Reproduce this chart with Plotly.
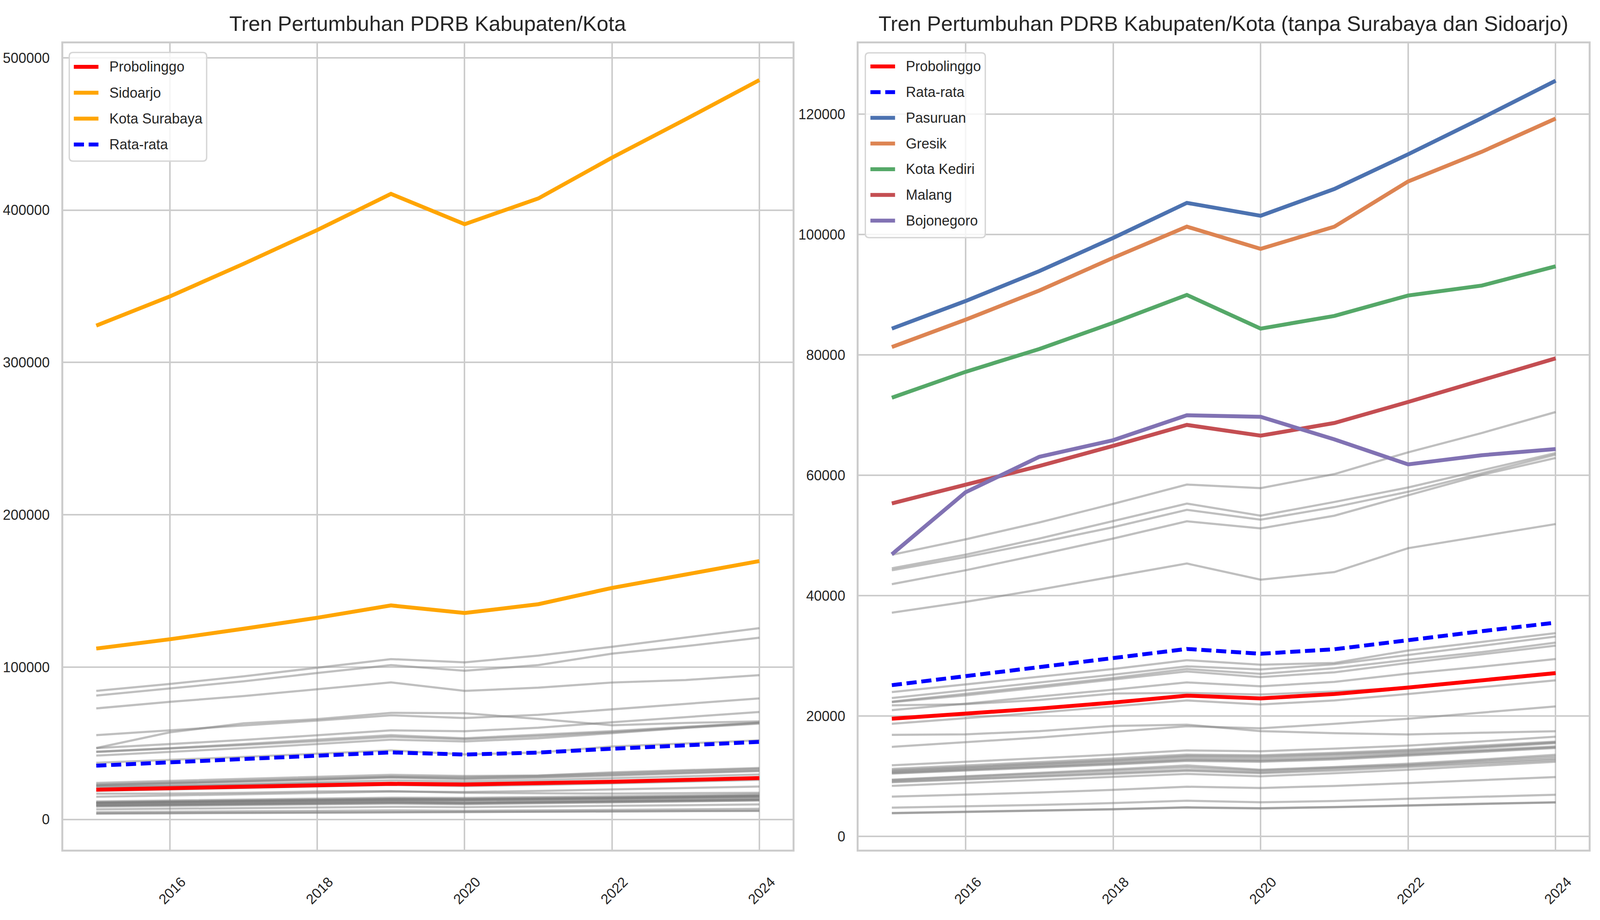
import plotly.graph_objects as go

# posisi diukur pada gambar acuan 5952x2354, dipakai sebagai pecahan kertas
RW, RH = 5952, 2354

tahun = [2015, 2016, 2017, 2018, 2019, 2020, 2021, 2022, 2023, 2024]

# kabupaten/kota yang disorot
kota_surabaya = [324200, 343400, 364800, 387000, 410700, 390800, 407700, 434500, 459700, 485400]
sidoarjo = [112200, 118300, 125200, 132400, 140500, 135500, 141300, 152000, 160800, 169600]
pasuruan = [84380, 88960, 93940, 99440, 105270, 103130, 107580, 113340, 119370, 125570]
gresik = [81320, 85860, 90710, 96140, 101320, 97630, 101320, 108830, 113770, 119280]
kota_kediri = [72900, 77200, 80990, 85340, 89980, 84380, 86490, 89880, 91530, 94730]
malang = [55340, 58470, 61550, 64900, 68380, 66590, 68700, 72190, 75750, 79440]
bojonegoro = [46880, 57190, 63080, 65840, 69990, 69720, 65970, 61820, 63350, 64370]
probolinggo = [19570, 20400, 21260, 22250, 23400, 22940, 23670, 24740, 25940, 27150]

# rata-rata (semua daerah / tanpa Surabaya dan Sidoarjo)
rata_semua = [35300, 37400, 39600, 41700, 44000, 42600, 43900, 46400, 48600, 50900]
rata_tanpa = [25140, 26690, 28220, 29640, 31160, 30360, 31110, 32690, 34110, 35530]

# daerah lain (garis abu-abu)
lain_01 = [46800, 49370, 52180, 55260, 58470, 57880, 60210, 63830, 67040, 70520]
lain_02 = [44550, 46820, 49500, 52450, 55310, 53300, 55580, 57990, 60830, 63700]
lain_03 = [44230, 46420, 48830, 51380, 54270, 52640, 54720, 57270, 60350, 63430]
lain_04 = [41920, 44230, 46820, 49500, 52370, 51190, 53300, 56650, 60080, 62890]
lain_05 = [37180, 38980, 41010, 43160, 45350, 42670, 43930, 47900, 49900, 51910]
lain_06 = [23990, 25270, 26530, 27820, 29290, 28540, 28830, 30900, 32320, 33790]
lain_07 = [23000, 24280, 25540, 26880, 28270, 27740, 28620, 30180, 31700, 33220]
lain_08 = [22410, 23670, 25010, 26340, 27820, 27010, 27950, 29370, 30630, 32210]
lain_09 = [22300, 23450, 24740, 26080, 27420, 26480, 27280, 28830, 30230, 31700]
lain_10 = [20990, 22060, 23270, 24390, 25600, 24950, 25680, 27070, 28220, 29480]
lain_11 = [21790, 21980, 22680, 23750, 23850, 23590, 24070, 24740, 25940, 27150]
lain_12 = [18720, 19650, 20590, 21610, 22600, 21930, 22600, 23670, 24820, 25940]
lain_13 = [16890, 16970, 17510, 18370, 18580, 17510, 17160, 16950, 17240, 17480]
lain_14 = [14890, 15640, 16440, 17380, 18310, 17970, 18720, 19570, 20590, 21610]
lain_15 = [11830, 12400, 12950, 13600, 14300, 14160, 14600, 15100, 15800, 16570]
lain_16 = [11220, 11800, 12350, 12950, 13600, 13500, 13900, 14400, 15100, 15770]
lain_17 = [11000, 11550, 12100, 12700, 13400, 13300, 13700, 14200, 14900, 15640]
lain_18 = [10850, 11400, 11950, 12550, 13200, 13050, 13500, 14000, 14750, 15500]
lain_19 = [10700, 11200, 11750, 12300, 12900, 12750, 13150, 13750, 14350, 14970]
lain_20 = [10550, 11050, 11550, 12100, 12700, 12560, 12950, 13550, 14200, 14830]
lain_21 = [10450, 10950, 11450, 11950, 12550, 12400, 12800, 13400, 14050, 14700]
lain_22 = [9450, 10000, 10550, 11150, 11810, 11090, 11550, 12100, 12800, 13570]
lain_23 = [9350, 9900, 10400, 10950, 11490, 10950, 11400, 11900, 12600, 13280]
lain_24 = [9130, 9600, 10100, 10600, 11090, 10680, 11200, 11760, 12350, 12960]
lain_25 = [9000, 9450, 9900, 10400, 10900, 10500, 10950, 11500, 12100, 12690]
lain_26 = [8410, 8900, 9400, 9850, 10400, 10010, 10500, 11090, 11750, 12420]
lain_27 = [6620, 6950, 7300, 7750, 8270, 8060, 8400, 8870, 9350, 9880]
lain_28 = [4790, 5000, 5250, 5550, 5940, 5680, 5900, 6270, 6600, 6940]
lain_29 = [3910, 4100, 4300, 4550, 4850, 4710, 4900, 5200, 5450, 5680]
lain_30 = [3850, 4050, 4250, 4500, 4800, 4650, 4850, 5150, 5400, 5650]

lainnya = [lain_01, lain_02, lain_03, lain_04, lain_05, lain_06, lain_07, lain_08,
           lain_09, lain_10, lain_11, lain_12, lain_13, lain_14, lain_15, lain_16,
           lain_17, lain_18, lain_19, lain_20, lain_21, lain_22, lain_23, lain_24,
           lain_25, lain_26, lain_27, lain_28, lain_29, lain_30]

FONT = "Liberation Sans, Arial, sans-serif"
TXT = "#262626"
GRID = "#cccccc"
GREY = "rgba(128,128,128,0.5)"
DASH = "26px,12px"
DEEP = ["#4C72B0", "#DD8452", "#55A868", "#C44E52", "#8172B3"]
FS = 36      # tick & legend
FS_T = 54    # judul


def px(x, y):
    return x / RW, 1 - y / RH


fig = go.Figure()

# panel kiri: semua daerah
kiri_abu = lainnya + [pasuruan, gresik, kota_kediri, malang, bojonegoro]
for v in kiri_abu:
    fig.add_trace(go.Scatter(x=tahun, y=v, mode="lines", line=dict(color=GREY, width=5.5),
                             xaxis="x", yaxis="y", showlegend=False, hoverinfo="skip"))

kiri = [("Probolinggo", probolinggo, "red", "solid"),
        ("Sidoarjo", sidoarjo, "orange", "solid"),
        ("Kota Surabaya", kota_surabaya, "orange", "solid"),
        ("Rata-rata", rata_semua, "blue", DASH)]
for nama, v, c, d in kiri:
    fig.add_trace(go.Scatter(x=tahun, y=v, mode="lines", name=nama,
                             line=dict(color=c, width=10, dash=d),
                             xaxis="x", yaxis="y", showlegend=False))

# panel kanan: tanpa Surabaya dan Sidoarjo
for v in lainnya:
    fig.add_trace(go.Scatter(x=tahun, y=v, mode="lines", line=dict(color=GREY, width=5.5),
                             xaxis="x2", yaxis="y2", showlegend=False, hoverinfo="skip"))

kanan = [("Probolinggo", probolinggo, "red", "solid"),
         ("Rata-rata", rata_tanpa, "blue", DASH),
         ("Pasuruan", pasuruan, DEEP[0], "solid"),
         ("Gresik", gresik, DEEP[1], "solid"),
         ("Kota Kediri", kota_kediri, DEEP[2], "solid"),
         ("Malang", malang, DEEP[3], "solid"),
         ("Bojonegoro", bojonegoro, DEEP[4], "solid")]
for nama, v, c, d in kanan:
    fig.add_trace(go.Scatter(x=tahun, y=v, mode="lines", name=nama,
                             line=dict(color=c, width=10, dash=d),
                             xaxis="x2", yaxis="y2", showlegend=False))

# legenda gaya matplotlib (kotak bersudut bulat)
shapes, annots = [], []


def legenda(items, box, y0, step, line_x, text_x):
    l, t, r, b = box
    rx, ry = 14, 10
    pts = [(l + rx, t), (r - rx, t), (r, t), (r, t + ry), (r, b - ry), (r, b),
           (r - rx, b), (l + rx, b), (l, b), (l, b - ry), (l, t + ry), (l, t)]
    p = [px(*q) for q in pts]
    path = (f"M{p[0][0]},{p[0][1]} L{p[1][0]},{p[1][1]} Q{p[2][0]},{p[2][1]} {p[3][0]},{p[3][1]} "
            f"L{p[4][0]},{p[4][1]} Q{p[5][0]},{p[5][1]} {p[6][0]},{p[6][1]} "
            f"L{p[7][0]},{p[7][1]} Q{p[8][0]},{p[8][1]} {p[9][0]},{p[9][1]} "
            f"L{p[10][0]},{p[10][1]} Q{p[11][0]},{p[11][1]} {p[0][0]},{p[0][1]} Z")
    shapes.append(dict(type="path", xref="paper", yref="paper", path=path,
                       fillcolor="rgba(255,255,255,0.8)", line=dict(color="#d6d6d6", width=3.5)))
    for k, (nama, v, c, d) in enumerate(items):
        yy = y0 + k * step
        a = px(line_x[0], yy)
        bb = px(line_x[1], yy)
        shapes.append(dict(type="line", xref="paper", yref="paper", x0=a[0], y0=a[1], x1=bb[0], y1=bb[1],
                           line=dict(color=c, width=10, dash=d)))
        tx = px(text_x, yy)
        annots.append(dict(x=tx[0], y=tx[1], xref="paper", yref="paper", text=nama, showarrow=False,
                           xanchor="left", yanchor="middle", font=dict(size=FS, color=TXT, family=FONT)))


legenda(kiri, (247, 127, 760, 407), 164, 66.7, (264, 356), 394)
legenda(kanan, (3220, 128, 3668, 604), 163, 66.2, (3239, 3331), 3368)

judul = [("Tren Pertumbuhan PDRB Kabupaten/Kota", 1586),
         ("Tren Pertumbuhan PDRB Kabupaten/Kota (tanpa Surabaya dan Sidoarjo)", 4558)]
for teks, cx in judul:
    pos = px(cx, 52)
    annots.append(dict(x=pos[0], y=pos[1], xref="paper", yref="paper", text=teks, showarrow=False,
                       xanchor="center", yanchor="middle", font=dict(size=FS_T, color=TXT, family=FONT)))

xax = dict(range=[2014.55, 2024.45], tickvals=[2016, 2018, 2020, 2022, 2024], tickangle=-45,
           showgrid=True, gridcolor=GRID, gridwidth=3.5, zeroline=False,
           showline=True, mirror=True, linecolor=GRID, linewidth=5,
           tickfont=dict(size=FS, color=TXT, family=FONT), ticks="",
           ticklabelshift=30, ticklabelstandoff=42)
yax = dict(showgrid=True, gridcolor=GRID, gridwidth=4, zeroline=False,
           showline=True, mirror=True, linecolor=GRID, linewidth=5,
           tickfont=dict(size=FS, color=TXT, family=FONT), ticks="", tickformat="d",
           ticklabelstandoff=22)

top, bot = 1 - 104 / RH, 1 - 2181 / RH
fig.update_layout(
    autosize=True,
    margin=dict(l=0, r=0, t=0, b=0, autoexpand=False),
    paper_bgcolor="white", plot_bgcolor="white",
    xaxis=dict(xax, domain=[224 / RW, 2948 / RW], anchor="y"),
    yaxis=dict(yax, domain=[bot, top], anchor="x", range=[-19890, 509430],
               tickvals=[0, 100000, 200000, 300000, 400000, 500000]),
    xaxis2=dict(xax, domain=[3195 / RW, 5922 / RW], anchor="y2"),
    yaxis2=dict(yax, domain=[bot, top], anchor="x2", range=[-2200, 131750],
                tickvals=[0, 20000, 40000, 60000, 80000, 100000, 120000]),
    shapes=shapes, annotations=annots,
    showlegend=False,
    font=dict(family=FONT, color=TXT),
)

fig.write_html("out.html", default_width="100%", default_height="100%")
